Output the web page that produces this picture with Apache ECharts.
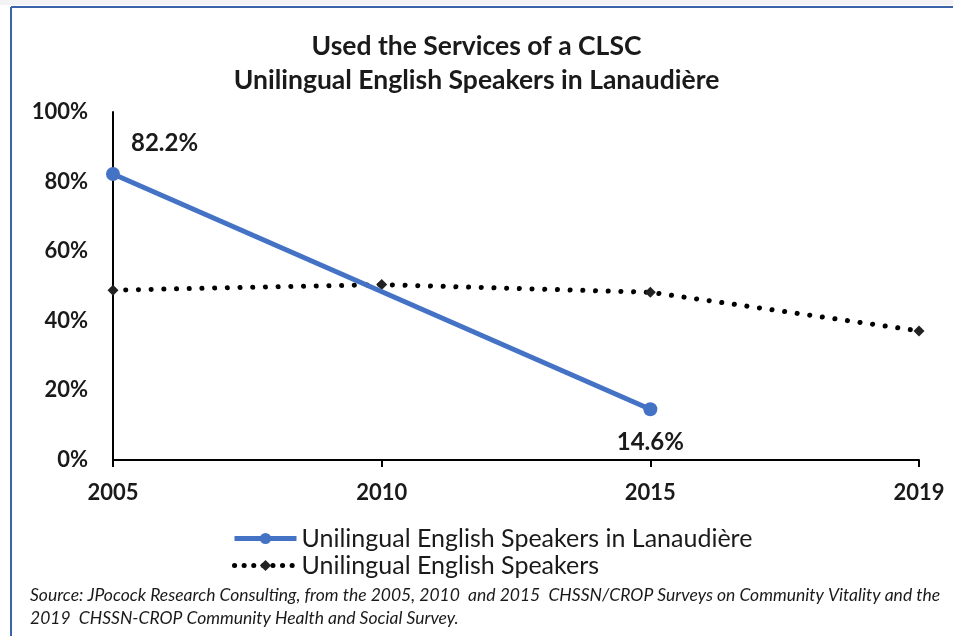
<!DOCTYPE html>
<html><head><meta charset="utf-8">
<script src="https://cdn.jsdelivr.net/npm/echarts@6/dist/echarts.min.js"></script>
<style>html,body{margin:0;padding:0;background:#fff}#c{width:953px;height:636px}</style>
</head><body><div id="c"></div>
<script>
const titleLines = ['Used the Services of a CLSC', 'Unilingual English Speakers in Lanaudière'];
const years = ['2005', '2010', '2015', '2019'];
const yTicks = [0, 20, 40, 60, 80, 100];
const lanaudiereName = 'Unilingual English Speakers in Lanaudière';
const lanaudiereValues = [82.2, null, 14.6, null];
const quebecName = 'Unilingual English Speakers';
const quebecValues = [48.8, 50.4, 48.2, 37.1];
const sourceLines = [
  'Source: JPocock Research Consulting, from the 2005, 2010  and 2015  CHSSN/CROP Surveys on Community Vitality and the',
  '2019  CHSSN-CROP Community Health and Social Survey.'
];

const FONT = 'Lato';
const chart = echarts.init(document.getElementById('c'));
chart.setOption({
  animation: false,
  backgroundColor: '#fff',
  title: {
    text: titleLines.join('\n'),
    left: 'center', top: 24,
    textStyle: { fontFamily: FONT, fontSize: 26.5, fontWeight: 'bold', color: '#1a1a1a', lineHeight: 34 }
  },
  grid: { left: 113, right: 34, top: 112, bottom: 176 },
  legend: {
    orient: 'vertical', left: 227, top: 521, itemGap: 2,
    itemWidth: 62, itemHeight: 14,
    textStyle: { fontFamily: FONT, fontSize: 25, color: '#1a1a1a' },
    data: [
      { name: lanaudiereName, lineStyle: { width: 5, color: '#4472c4' } },
      { name: quebecName, lineStyle: { width: 5, color: '#000', type: [0.1, 9.5], cap: 'round' } }
    ]
  },
  xAxis: {
    type: 'category', data: years, boundaryGap: false,
    axisLine: { lineStyle: { color: '#000', width: 2 } },
    axisTick: { show: true, inside: false, length: 7, lineStyle: { color: '#000', width: 2 } },
    axisLabel: { fontFamily: FONT, fontSize: 22, fontWeight: 'bold', color: '#1a1a1a', margin: 22 },
    splitLine: { show: false }
  },
  yAxis: {
    type: 'value', min: yTicks[0], max: yTicks[yTicks.length - 1], interval: 20,
    axisLine: { show: true, lineStyle: { color: '#000', width: 2 } },
    axisTick: { show: false },
    splitLine: { show: false },
    axisLabel: { fontFamily: FONT, fontSize: 22, fontWeight: 'bold', color: '#1a1a1a', margin: 25, formatter: v => v + '%' }
  },
  series: [
    {
      name: lanaudiereName, type: 'line', connectNulls: true,
      data: lanaudiereValues.map((v, i) => i === 0 ? { value: v, label: { position: 'right', offset: [-3, -31] } } : v),
      symbol: 'circle', symbolSize: 14, z: 3,
      lineStyle: { color: '#4472c4', width: 5 },
      itemStyle: { color: '#4472c4' },
      label: {
        show: true, fontFamily: FONT, fontSize: 24, fontWeight: 'bold', color: '#1a1a1a',
        formatter: p => p.value.toFixed(1) + '%',
        position: 'bottom', distance: 14
      },
      emphasis: { disabled: true }
    },
    {
      name: quebecName, type: 'line', data: quebecValues,
      symbol: 'diamond', symbolSize: 11, z: 2,
      lineStyle: { color: '#000', width: 5, type: [0.1, 12.6], cap: 'round' },
      itemStyle: { color: '#222' },
      emphasis: { disabled: true }
    }
  ],
  graphic: [
    { type: 'rect', shape: { x: 0, y: 0, width: 953, height: 5 }, style: { fill: '#f3f3f6' }, silent: true },
    { type: 'line', shape: { x1: 11, y1: 7, x2: 953, y2: 7 }, style: { stroke: '#3b63a8', lineWidth: 2 }, silent: true },
    { type: 'line', shape: { x1: 11, y1: 7, x2: 11, y2: 636 }, style: { stroke: '#3b63a8', lineWidth: 2 }, silent: true },
    { type: 'text', left: 30, top: 584, style: { text: sourceLines.join('\n'), fontFamily: FONT, fontSize: 17.5, fontStyle: 'italic', fill: '#1a1a1a', lineHeight: 23 }, silent: true }
  ]
});
</script></body></html>
